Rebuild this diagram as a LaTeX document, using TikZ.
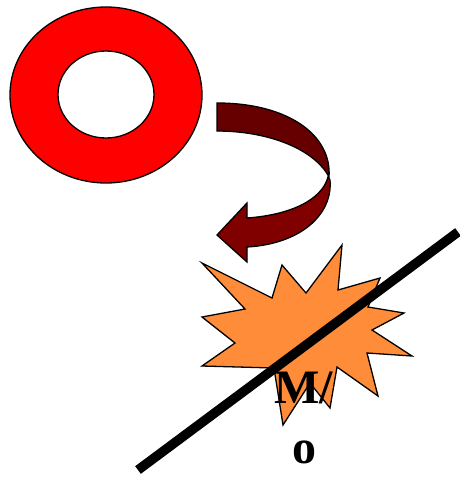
\documentclass[tikz,border=0pt]{standalone}
\usepackage{fontspec}
\setmainfont{Liberation Serif}
\begin{document}
\begin{tikzpicture}[x=1pt,y=-1pt,
  outline/.style={draw=black,line width=1.3pt,line join=miter},
  ringfill/.style={fill=red,outline},
  arrowtop/.style={fill={rgb,255:red,102;green,0;blue,0},outline},
  arrowbot/.style={fill={rgb,255:red,128;green,0;blue,0},outline},
  burst/.style={fill={rgb,255:red,255;green,140;blue,56},outline},
  slash/.style={draw=black,line width=9.5pt},
  lbl/.style={font=\bfseries\fontsize{48}{60}\selectfont,align=center,inner sep=0pt}]
\useasboundingbox (0,0) rectangle (460,477);
% ring
\path[ringfill,even odd rule] (106,95) ellipse [x radius=96,y radius=88]
      (106,94.5) ellipse [x radius=48,y radius=43.5];
% curved arrow
\path[arrowbot] (328,177) .. controls (322,200) and (290,215) .. (247,218)
   -- (247,203) -- (217,235) -- (247,262) -- (247,247)
   .. controls (300,244) and (333,215) .. (330,180) -- cycle;
\path[arrowtop] (217,103) .. controls (288,103) and (332,135) .. (329,177)
   .. controls (315,150) and (270,131) .. (217,131) -- cycle;
% starburst
\path[burst] (202,263) -- (272,298) -- (282,265) -- (306,293) -- (342,245)
  -- (338,290) -- (380,278) -- (368,307) -- (404,313) -- (372,330)
  -- (412,356) -- (367,353) -- (378,396) -- (337,367) -- (330,408)
  -- (310,383) -- (283,425) -- (274,368) -- (202,366) -- (235,343)
  -- (202,317) -- (245,309) -- cycle;
% label
\node[lbl] (mo) at (304,418) {M/\\o};
% slash
\coordinate (s1) at (138,470);
\coordinate (s2) at (458,232);
\draw[slash] (s1) -- (s2);
\end{tikzpicture}
\end{document}
